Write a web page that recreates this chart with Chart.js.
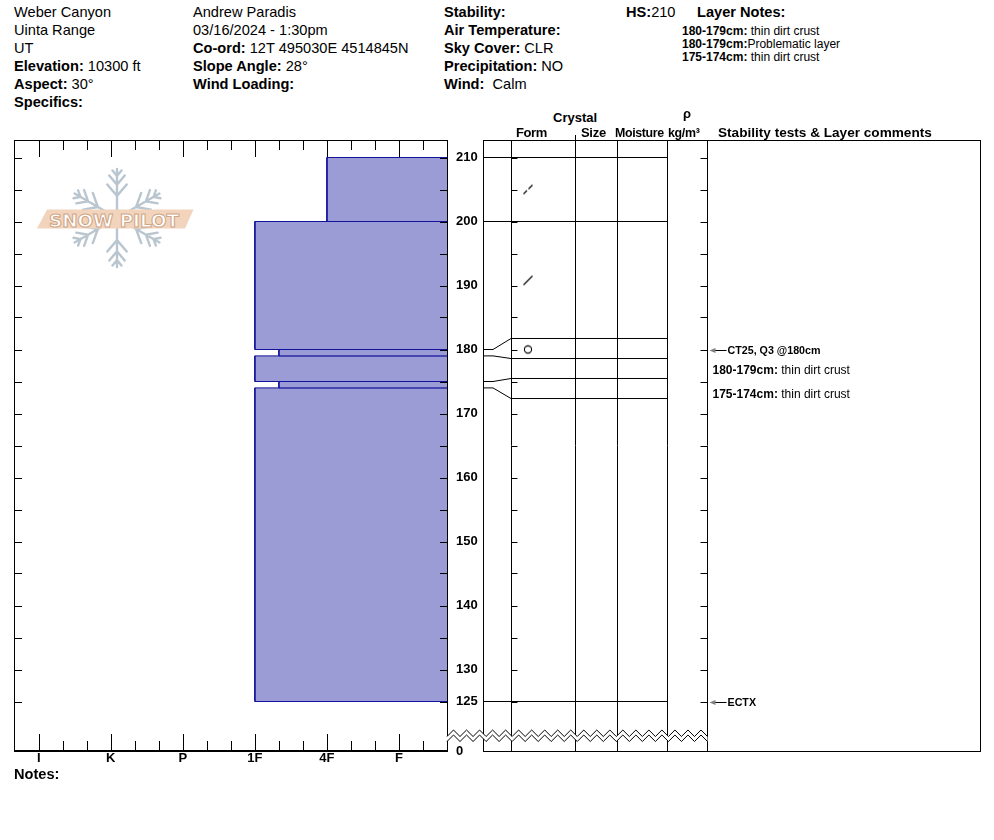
<!DOCTYPE html>
<html>
<head>
<meta charset="utf-8">
<title>Snow profile - Weber Canyon</title>
<script src="https://cdn.jsdelivr.net/npm/chart.js@4.4.1/dist/chart.umd.min.js"></script>
<style>
  html, body { margin: 0; padding: 0; background: #fff; }
  body { width: 994px; height: 840px; position: relative; overflow: hidden; font-family: "Liberation Sans", Arial, sans-serif; color: #000; }
  .abs { position: absolute; white-space: nowrap; }
  .hdr { font-size: 14.6px; line-height: 18px; }
  .lnotes { font-size: 12px; line-height: 13px; }
  .colhead { font-size: 13px; font-weight: bold; line-height: 15px; }
  canvas { position: absolute; }
</style>
</head>
<body>

<div class="abs hdr" style="left:14px;top:3px">Weber Canyon<br>Uinta Range<br>UT<br><b>Elevation:</b> 10300 ft<br><b>Aspect:</b> 30°<br><b>Specifics:</b></div>
<div class="abs hdr" style="left:193px;top:3px">Andrew Paradis<br>03/16/2024 - 1:30pm<br><b>Co-ord:</b> 12T 495030E 4514845N<br><b>Slope Angle:</b> 28°<br><b>Wind Loading:</b></div>
<div class="abs hdr" style="left:444px;top:3px"><b>Stability:</b><br><b>Air Temperature:</b><br><b>Sky Cover:</b> CLR<br><b>Precipitation:</b> NO<br><b>Wind:</b>&nbsp; Calm</div>
<div class="abs hdr" style="left:626px;top:3px"><b>HS:</b>210</div>
<div class="abs hdr" style="left:697px;top:3px"><b>Layer Notes:</b></div>
<div class="abs lnotes" style="left:682px;top:25px"><b>180-179cm:</b> thin dirt crust<br><b>180-179cm:</b>Problematic layer<br><b>175-174cm:</b> thin dirt crust</div>

<svg id="logo" class="abs" style="left:0;top:0" width="220" height="280"></svg>

<canvas id="hardness" width="470" height="650" style="left:0;top:130px;width:470px;height:650px"></canvas>
<canvas id="grid" width="550" height="650" style="left:440px;top:130px;width:550px;height:650px"></canvas>

<div class="abs colhead" style="left:553px;top:110px">Crystal</div>
<div class="abs colhead" style="left:683px;top:106px">ρ</div>
<div class="abs colhead" style="left:516px;top:125px;letter-spacing:-0.4px">Form</div>
<div class="abs colhead" style="left:581px;top:125px;letter-spacing:-0.3px">Size</div>
<div class="abs colhead" style="left:615px;top:125.5px;font-size:12.4px;letter-spacing:-0.35px">Moisture</div>
<div class="abs colhead" style="left:668px;top:125.5px;font-size:12.4px;letter-spacing:-0.3px">kg/m³</div>
<div class="abs colhead" style="left:718px;top:124.5px;font-size:13.6px">Stability tests &amp; Layer comments</div>

<div class="abs hdr" style="left:14px;top:765px"><b>Notes:</b></div>

<script>
// hardness profile layers (cm above ground)
const layerTops = [210, 200, 180, 179, 175, 174];
const layerBottoms = [200, 180, 179, 175, 174, 125];
const layerHardness = ['4F', '1F', '1F-', '1F', '1F-', '1F'];

// hand hardness axis, F at the right edge
const hardnessCodes = ['F', '4F', '1F', 'P', 'K', 'I'];
const hardnessTickVals = [2, 3, 4, 5, 6, 7, 8, 9, 10, 11, 12, 13, 14, 15, 16, 17, 18];

// height axis
const depthTicks = [125, 130, 135, 140, 145, 150, 155, 160, 165, 170, 175, 180, 185, 190, 195, 200, 205, 210];
const depthLabels = [125, 130, 140, 150, 160, 170, 180, 190, 200, 210];
const groundLabel = '0';

// layer boundaries and the row they get in the (expanded) grid
const gridBoundaries = [210, 200, 180, 179, 175, 174, 125];
const gridRows = [210, 200, 181.72, 178.59, 175.47, 172.34, 125];

// grain form symbols
const formDepths = [205, 190.8, 180];
const formCodes = ['DFdc', 'DF', 'MFcr'];

// stability tests
const testDepths = [180, 125];
const testLabels = ['CT25, Q3 @180cm', 'ECTX'];

// layer comments
const commentRanges = ['180-179cm:', '175-174cm:'];
const commentTexts = ['thin dirt crust', 'thin dirt crust'];

const Y_MAX = 212.734375, Y_MIN = 117.265625;
const HARD_EDGE = 1, HARD_MAX = 19.03;
const COL = { knee: 10, form: 28, size: 92, moisture: 134, rho: 184, comments: 224, end: 497 };
const SYMBOL_X = 45;
const FONT = '"Liberation Sans", Arial, sans-serif';

function hardnessValue(code) {
    const base = code.replace(/[+-]$/, '');
    let v = (hardnessCodes.indexOf(base) + 1) * 3;
    if (code.endsWith('-')) v -= 1;
    if (code.endsWith('+')) v += 1;
    return v;
}

function crisp(v) {
    return Math.round(v) + 0.5;
}

// small glyphs used as point styles in the form column
function symbolCanvas(code) {
    const c = document.createElement('canvas');
    c.width = 12; c.height = 12;
    const g = c.getContext('2d');
    g.strokeStyle = '#000';
    g.lineWidth = 1.1;
    g.beginPath();
    if (code === 'DF') {
        g.moveTo(1.5, 10.5); g.lineTo(10.5, 1.5);
    } else if (code === 'DFdc') {
        g.moveTo(1.5, 10.5); g.lineTo(5, 7);
        g.moveTo(6.5, 5.5); g.lineTo(10.5, 1.5);
    } else {
        g.arc(6, 6, 3.6, 0, Math.PI * 2);
    }
    g.stroke();
    return c;
}

const hardnessFrame = {
    id: 'hardnessFrame',
    afterDatasetsDraw(chart) {
        const { ctx, chartArea: a, scales: { x, y } } = chart;
        ctx.save();
        ctx.strokeStyle = '#000';
        ctx.fillStyle = '#000';
        ctx.lineWidth = 1;
        ctx.strokeRect(a.left + 0.5, a.top + 0.5, a.right - a.left, a.bottom - a.top);
        ctx.fillRect(a.left, a.bottom - 1, a.right - a.left + 1, 2);
        ctx.beginPath();
        depthTicks.forEach(d => {
            const py = crisp(y.getPixelForValue(d));
            ctx.moveTo(a.left, py); ctx.lineTo(a.left + 8, py);
            ctx.moveTo(a.right + 1, py); ctx.lineTo(a.right - 7, py);
        });
        hardnessTickVals.forEach(v => {
            const px = crisp(x.getPixelForValue(v));
            const len = v % 3 === 0 ? 17 : 10;
            ctx.moveTo(px, a.top); ctx.lineTo(px, a.top + len);
            ctx.moveTo(px, a.bottom); ctx.lineTo(px, a.bottom - len);
        });
        ctx.stroke();
        ctx.restore();
    }
};

const gridFrame = {
    id: 'gridFrame',
    beforeDatasetsDraw(chart) {
        const { ctx, chartArea: a, scales: { x, y } } = chart;
        ctx.save();
        ctx.strokeStyle = '#000';
        ctx.lineWidth = 1;
        ctx.strokeRect(a.left + 0.5, a.top + 0.5, a.right - a.left, a.bottom - a.top);
        ctx.beginPath();
        [COL.form, COL.size, COL.moisture, COL.rho, COL.comments].forEach(c => {
            const px = crisp(x.getPixelForValue(c));
            ctx.moveTo(px, a.top); ctx.lineTo(px, a.bottom);
        });
        const sx = crisp(x.getPixelForValue(COL.size));
        ctx.moveTo(sx, a.top - 5); ctx.lineTo(sx, a.top);
        const fx = crisp(x.getPixelForValue(COL.form));
        const rx = crisp(x.getPixelForValue(COL.comments));
        depthTicks.forEach(d => {
            const py = crisp(y.getPixelForValue(d));
            ctx.moveTo(fx, py); ctx.lineTo(fx + 6, py);
            ctx.moveTo(rx, py); ctx.lineTo(rx - 7, py);
        });
        ctx.stroke();
        ctx.restore();
    },
    afterDraw(chart) {
        const { ctx, chartArea: a, scales: { x, y } } = chart;
        ctx.save();

        // axis break zigzag, from the hardness edge to the density column
        const x0 = a.left - 36, x1 = crisp(x.getPixelForValue(COL.comments));
        const top = a.bottom - 21, amp = 6.5, gap = 5;
        const n = 40, step = (x1 - x0) / n;
        const upper = [];
        for (let k = 0; k <= n; k++) upper.push([x0 + k * step, k % 2 ? top : top + amp]);
        ctx.beginPath();
        upper.forEach(([px, py], k) => k ? ctx.lineTo(px, py) : ctx.moveTo(px, py));
        for (let k = n; k >= 0; k--) ctx.lineTo(upper[k][0], upper[k][1] + gap);
        ctx.closePath();
        ctx.fillStyle = '#fff';
        ctx.fill();
        ctx.strokeStyle = '#000';
        ctx.lineWidth = 1;
        [0, gap].forEach(off => {
            ctx.beginPath();
            upper.forEach(([px, py], k) => k ? ctx.lineTo(px, py + off) : ctx.moveTo(px, py + off));
            ctx.stroke();
        });

        // stability test arrows
        const rx = crisp(x.getPixelForValue(COL.comments));
        ctx.textBaseline = 'middle';
        testDepths.forEach((d, i) => {
            const py = crisp(y.getPixelForValue(d));
            const tip = rx + 2;
            ctx.strokeStyle = '#000';
            ctx.beginPath();
            ctx.moveTo(tip + 5, py); ctx.lineTo(tip + 17, py);
            ctx.stroke();
            ctx.fillStyle = '#808080';
            ctx.beginPath();
            ctx.moveTo(tip, py); ctx.lineTo(tip + 6, py - 2.5); ctx.lineTo(tip + 6, py + 2.5);
            ctx.closePath();
            ctx.fill();
            ctx.fillStyle = '#000';
            ctx.font = 'bold 10.7px ' + FONT;
            ctx.fillText(testLabels[i], tip + 18, py + 0.5);
        });

        // layer comments, stacked below the first test
        const firstY = crisp(y.getPixelForValue(testDepths[0]));
        commentRanges.forEach((r, i) => {
            const py = firstY + 20.5 + i * 23.5;
            const tx = rx + 5;
            ctx.font = 'bold 12px ' + FONT;
            ctx.fillText(r, tx, py);
            const w = ctx.measureText(r + ' ').width;
            ctx.font = '12px ' + FONT;
            ctx.fillText(commentTexts[i], tx + w, py);
        });
        ctx.restore();
    }
};

function drawLogo() {
    const svg = document.getElementById('logo');
    const cx = 117, cy = 218, R = 49;
    let d = '';
    for (let k = 0; k < 6; k++) {
        const ang = (90 + 60 * k) * Math.PI / 180;
        const ex = cx + Math.cos(ang) * R, ey = cy - Math.sin(ang) * R;
        d += `M${cx} ${cy}L${ex.toFixed(1)} ${ey.toFixed(1)}`;
        [[0.45, 15], [0.68, 12], [0.86, 7]].forEach(([t, len]) => {
            const bx = cx + Math.cos(ang) * R * t, by = cy - Math.sin(ang) * R * t;
            [-1, 1].forEach(s => {
                const b = ang + s * 0.7;
                d += `M${bx.toFixed(1)} ${by.toFixed(1)}L${(bx + Math.cos(b) * len).toFixed(1)} ${(by - Math.sin(b) * len).toFixed(1)}`;
            });
        });
    }
    svg.innerHTML =
        `<path d="${d}" stroke="#bac6cf" stroke-width="2.4" fill="none" stroke-linecap="round"/>` +
        `<polygon points="37,228.5 47,209.5 193.5,209.5 185,228.5" fill="#f2d4bd"/>` +
        `<text x="114" y="226.5" text-anchor="middle" textLength="130" lengthAdjust="spacingAndGlyphs" ` +
        `font-family="DejaVu Sans" font-weight="bold" font-size="17" fill="#fff" stroke="#cfa688" stroke-width="1">SNOW PILOT</text>`;
}

drawLogo();

new Chart(document.getElementById('hardness'), {
    type: 'line',
    data: {
        datasets: layerTops.map((top, i) => {
            const h = hardnessValue(layerHardness[i]);
            const bottom = layerBottoms[i];
            return {
                data: [
                    { x: HARD_EDGE, y: top },
                    { x: h, y: top },
                    { x: h, y: bottom },
                    { x: HARD_EDGE, y: bottom }
                ],
                borderColor: '#12129a',
                borderWidth: 1,
                backgroundColor: '#9b9bd6',
                fill: { value: HARD_EDGE },
                pointRadius: 0,
                tension: 0
            };
        })
    },
    options: {
        indexAxis: 'y',
        responsive: false,
        animation: false,
        devicePixelRatio: 1,
        events: [],
        layout: { padding: { left: 14, right: 23, top: 10, bottom: 11 } },
        plugins: { legend: { display: false }, tooltip: { enabled: false } },
        scales: {
            x: {
                type: 'linear',
                min: HARD_EDGE,
                max: HARD_MAX,
                reverse: true,
                position: 'bottom',
                afterBuildTicks: s => { s.ticks = hardnessTickVals.map(v => ({ value: v })); },
                afterFit: s => { s.height = 18; },
                grid: { display: false, drawTicks: false },
                border: { display: false },
                ticks: {
                    autoSkip: false,
                    maxRotation: 0,
                    padding: 0,
                    color: '#000',
                    font: { family: FONT, size: 13, weight: 'bold' },
                    callback: v => (v % 3 === 0 ? hardnessCodes[v / 3 - 1] : '')
                }
            },
            y: { type: 'linear', min: Y_MIN, max: Y_MAX, display: false }
        }
    },
    plugins: [hardnessFrame]
});

const symbols = {};
formCodes.forEach(c => { symbols[c] = symbolCanvas(c); });

new Chart(document.getElementById('grid'), {
    type: 'line',
    data: {
        datasets: [
            ...gridBoundaries.map((b, i) => ({
                data: [
                    { x: 0, y: b },
                    { x: COL.knee, y: b },
                    { x: COL.form, y: gridRows[i] },
                    { x: COL.rho, y: gridRows[i] }
                ],
                borderColor: '#000',
                borderWidth: 1,
                pointRadius: 0,
                fill: false,
                tension: 0
            })),
            {
                type: 'scatter',
                data: formDepths.map(d => ({ x: SYMBOL_X, y: d })),
                pointStyle: formCodes.map(c => symbols[c]),
                pointRadius: 5,
                showLine: false
            }
        ]
    },
    options: {
        responsive: false,
        animation: false,
        devicePixelRatio: 1,
        events: [],
        layout: { padding: { left: 16, right: 10, top: 10, bottom: 29 } },
        plugins: { legend: { display: false }, tooltip: { enabled: false } },
        scales: {
            x: { type: 'linear', min: 0, max: COL.end, display: false },
            y: {
                type: 'linear',
                min: Y_MIN,
                max: Y_MAX,
                position: 'left',
                afterBuildTicks: s => { s.ticks = [Y_MIN, ...depthLabels].map(v => ({ value: v })); },
                afterFit: s => { s.width = 27; },
                grid: { display: false, drawTicks: false },
                border: { display: false },
                ticks: {
                    autoSkip: false,
                    crossAlign: 'far',
                    padding: 0,
                    color: '#000',
                    font: { family: FONT, size: 13, weight: 'bold' },
                    callback: v => (Math.abs(v - Y_MIN) < 0.01 ? groundLabel : String(v))
                }
            }
        }
    },
    plugins: [gridFrame]
});
</script>
</body>
</html>
